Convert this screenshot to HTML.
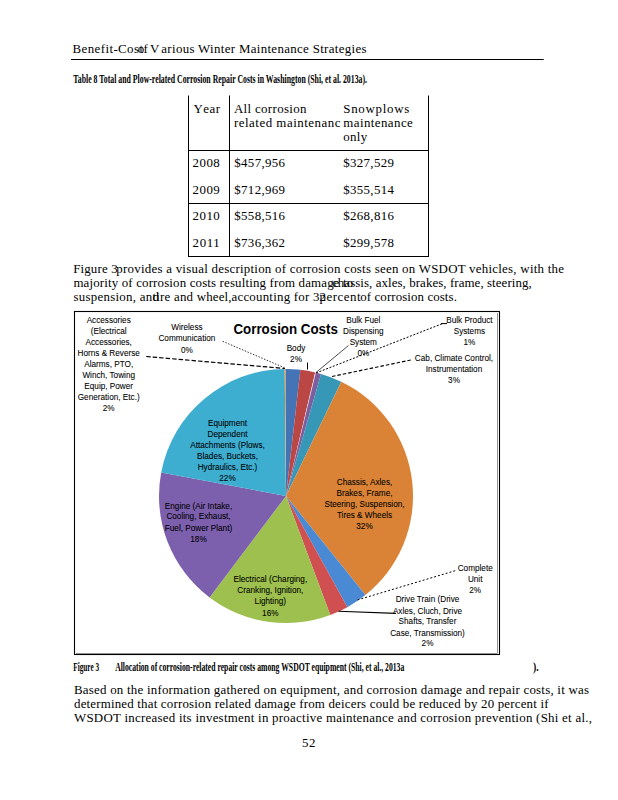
<!DOCTYPE html>
<html><head><meta charset="utf-8"><style>
html,body{margin:0;padding:0;background:#fff;width:618px;height:800px;overflow:hidden}
svg{display:block}
</style></head><body>
<svg width="618" height="800" viewBox="0 0 618 800">
<rect width="618" height="800" fill="#fff"/>
<text x="72.6" y="53" font-size="12.9" font-family='"Liberation Serif", serif' font-weight="normal" fill="#000" text-anchor="start" textLength="70.40" lengthAdjust="spacing">Benefit-Cost</text>
<text x="137.7" y="53" font-size="12.9" font-family='"Liberation Serif", serif' font-weight="normal" fill="#000" text-anchor="start" textLength="10.10" lengthAdjust="spacing">of</text>
<text x="150.1" y="53" font-size="12.9" font-family='"Liberation Serif", serif' font-weight="normal" fill="#000" text-anchor="start">V</text>
<text x="161.3" y="53" font-size="12.9" font-family='"Liberation Serif", serif' font-weight="normal" fill="#000" text-anchor="start" textLength="205.20" lengthAdjust="spacing">arious Winter Maintenance Strategies</text>
<line x1="71" y1="59.5" x2="543.7" y2="59.5" stroke="#000" stroke-width="1.1"/>
<text x="73.3" y="83" font-size="12" font-family='"Liberation Serif", serif' font-weight="bold" fill="#000" text-anchor="start" textLength="293.70" lengthAdjust="spacingAndGlyphs">Table 8 Total and Plow-related Corrosion Repair Costs in Washington (Shi, et al. 2013a).</text>
<line x1="188.5" y1="95.5" x2="188.5" y2="256.5" stroke="#000" stroke-width="1"/>
<line x1="229.5" y1="95.5" x2="229.5" y2="256.5" stroke="#000" stroke-width="1"/>
<line x1="428.5" y1="95.5" x2="428.5" y2="256.5" stroke="#000" stroke-width="1"/>
<line x1="188.0" y1="150.5" x2="429.0" y2="150.5" stroke="#000" stroke-width="1"/>
<line x1="188.0" y1="203.5" x2="429.0" y2="203.5" stroke="#000" stroke-width="1"/>
<line x1="188.0" y1="256.5" x2="429.0" y2="256.5" stroke="#000" stroke-width="1"/>
<text x="193.6" y="113" font-size="12.9" font-family='"Liberation Serif", serif' font-weight="normal" fill="#000" text-anchor="start">Y</text>
<text x="203.3" y="113" font-size="12.9" font-family='"Liberation Serif", serif' font-weight="normal" fill="#000" text-anchor="start" textLength="16.70" lengthAdjust="spacing">ear</text>
<text x="233.9" y="113" font-size="12.9" font-family='"Liberation Serif", serif' font-weight="normal" fill="#000" text-anchor="start" textLength="72.60" lengthAdjust="spacing">All corrosion</text>
<text x="233.9" y="127" font-size="12.9" font-family='"Liberation Serif", serif' font-weight="normal" fill="#000" text-anchor="start" textLength="106.60" lengthAdjust="spacing">related maintenanc</text>
<text x="343.3" y="113" font-size="12.9" font-family='"Liberation Serif", serif' font-weight="normal" fill="#000" text-anchor="start" textLength="66.00" lengthAdjust="spacing">Snowplows</text>
<text x="343.3" y="127" font-size="12.9" font-family='"Liberation Serif", serif' font-weight="normal" fill="#000" text-anchor="start" textLength="69.50" lengthAdjust="spacing">maintenance</text>
<text x="343.3" y="141" font-size="12.9" font-family='"Liberation Serif", serif' font-weight="normal" fill="#000" text-anchor="start" letter-spacing="0.3">only</text>
<text x="192.6" y="167" font-size="12.9" font-family='"Liberation Serif", serif' font-weight="normal" fill="#000" text-anchor="start" textLength="27.20" lengthAdjust="spacing">2008</text>
<text x="234.3" y="167" font-size="12.9" font-family='"Liberation Serif", serif' font-weight="normal" fill="#000" text-anchor="start" textLength="50.70" lengthAdjust="spacing">$457,956</text>
<text x="343.3" y="167" font-size="12.9" font-family='"Liberation Serif", serif' font-weight="normal" fill="#000" text-anchor="start" textLength="50.60" lengthAdjust="spacing">$327,529</text>
<text x="192.6" y="194" font-size="12.9" font-family='"Liberation Serif", serif' font-weight="normal" fill="#000" text-anchor="start" textLength="27.20" lengthAdjust="spacing">2009</text>
<text x="234.3" y="194" font-size="12.9" font-family='"Liberation Serif", serif' font-weight="normal" fill="#000" text-anchor="start" textLength="50.70" lengthAdjust="spacing">$712,969</text>
<text x="343.3" y="194" font-size="12.9" font-family='"Liberation Serif", serif' font-weight="normal" fill="#000" text-anchor="start" textLength="50.60" lengthAdjust="spacing">$355,514</text>
<text x="192.6" y="220" font-size="12.9" font-family='"Liberation Serif", serif' font-weight="normal" fill="#000" text-anchor="start" textLength="27.20" lengthAdjust="spacing">2010</text>
<text x="234.3" y="220" font-size="12.9" font-family='"Liberation Serif", serif' font-weight="normal" fill="#000" text-anchor="start" textLength="50.70" lengthAdjust="spacing">$558,516</text>
<text x="343.3" y="220" font-size="12.9" font-family='"Liberation Serif", serif' font-weight="normal" fill="#000" text-anchor="start" textLength="50.60" lengthAdjust="spacing">$268,816</text>
<text x="192.6" y="247" font-size="12.9" font-family='"Liberation Serif", serif' font-weight="normal" fill="#000" text-anchor="start" textLength="27.20" lengthAdjust="spacing">2011</text>
<text x="234.3" y="247" font-size="12.9" font-family='"Liberation Serif", serif' font-weight="normal" fill="#000" text-anchor="start" textLength="50.70" lengthAdjust="spacing">$736,362</text>
<text x="343.3" y="247" font-size="12.9" font-family='"Liberation Serif", serif' font-weight="normal" fill="#000" text-anchor="start" textLength="50.60" lengthAdjust="spacing">$299,578</text>
<text x="73.2" y="273" font-size="12.9" font-family='"Liberation Serif", serif' font-weight="normal" fill="#000" text-anchor="start" textLength="44.40" lengthAdjust="spacing">Figure 3</text>
<text x="116.3" y="273" font-size="12.9" font-family='"Liberation Serif", serif' font-weight="normal" fill="#000" text-anchor="start" textLength="447.70" lengthAdjust="spacing">provides a visual description of corrosion costs seen on WSDOT vehicles, with the</text>
<text x="73.4" y="287" font-size="12.9" font-family='"Liberation Serif", serif' font-weight="normal" fill="#000" text-anchor="start" textLength="260.20" lengthAdjust="spacing">majority of corrosion costs resulting from damag</text>
<text x="333.4" y="287" font-size="12.9" font-family='"Liberation Serif", serif' font-weight="normal" fill="#000" text-anchor="start" letter-spacing="0.3">e to</text>
<text x="332" y="287" font-size="12.9" font-family='"Liberation Serif", serif' font-weight="normal" fill="#000" text-anchor="start" textLength="199.70" lengthAdjust="spacing">chassis, axles, brakes, frame, steering,</text>
<text x="73.4" y="301" font-size="12.9" font-family='"Liberation Serif", serif' font-weight="normal" fill="#000" text-anchor="start" textLength="85.60" lengthAdjust="spacing">suspension, and</text>
<text x="152.5" y="301" font-size="12.9" font-family='"Liberation Serif", serif' font-weight="normal" fill="#000" text-anchor="start" textLength="72.00" lengthAdjust="spacing">tire and whee</text>
<text x="224.6" y="301" font-size="12.9" font-family='"Liberation Serif", serif' font-weight="normal" fill="#000" text-anchor="start">l,</text>
<text x="231.5" y="301" font-size="12.9" font-family='"Liberation Serif", serif' font-weight="normal" fill="#000" text-anchor="start" textLength="94.50" lengthAdjust="spacing">accounting for 32</text>
<text x="319.6" y="301" font-size="12.9" font-family='"Liberation Serif", serif' font-weight="normal" fill="#000" text-anchor="start" textLength="40.90" lengthAdjust="spacing">percent</text>
<text x="360.3" y="301" font-size="12.9" font-family='"Liberation Serif", serif' font-weight="normal" fill="#000" text-anchor="start" textLength="96.60" lengthAdjust="spacing">of corrosion costs.</text>
<rect x="74.5" y="311.5" width="425" height="343" fill="#fff" stroke="#000" stroke-width="1.1"/>
<line x1="497.5" y1="313" x2="497.5" y2="653" stroke="#888" stroke-width="0.9"/>
<line x1="76" y1="653.5" x2="497.5" y2="653.5" stroke="#888" stroke-width="0.9"/>
<path d="M286,496 L286.00,369.00 A127,127 0 0 1 300.38,369.82 Z" fill="#4474b6"/>
<path d="M286,496 L300.38,369.82 A127,127 0 0 1 315.22,372.41 Z" fill="#bb4744"/>
<path d="M286,496 L315.22,372.41 A127,127 0 0 1 315.86,372.56 Z" fill="#f0f0f0"/>
<path d="M286,496 L315.86,372.56 A127,127 0 0 1 321.01,373.92 Z" fill="#7d5fa0"/>
<path d="M286,496 L321.01,373.92 A127,127 0 0 1 341.27,381.66 Z" fill="#3797b6"/>
<path d="M286,496 L341.27,381.66 A127,127 0 0 1 365.41,595.11 Z" fill="#da8336"/>
<path d="M286,496 L365.41,595.11 A127,127 0 0 1 347.38,607.18 Z" fill="#4a8ad4"/>
<path d="M286,496 L347.38,607.18 A127,127 0 0 1 330.27,615.03 Z" fill="#d04f50"/>
<path d="M286,496 L330.27,615.03 A127,127 0 0 1 209.57,597.43 Z" fill="#9dc04e"/>
<path d="M286,496 L209.57,597.43 A127,127 0 0 1 161.21,472.42 Z" fill="#7c5fad"/>
<path d="M286,496 L161.21,472.42 A127,127 0 0 1 284.67,369.01 Z" fill="#3dadd0"/>
<path d="M286,496 L284.67,369.01 A127,127 0 0 1 286.00,369.00 Z" fill="#e0a060"/>
<text x="233.5" y="333.5" font-size="14" font-family='"Liberation Sans", sans-serif' font-weight="bold" fill="#000" text-anchor="start" textLength="104.30" lengthAdjust="spacingAndGlyphs">Corrosion Costs</text>
<text x="108.7" y="322.7" font-size="8.2" font-family='"Liberation Sans", sans-serif' font-weight="normal" fill="#000" text-anchor="middle" stroke="#000" stroke-width="0.07">Accessories</text>
<text x="108.7" y="333.8" font-size="8.2" font-family='"Liberation Sans", sans-serif' font-weight="normal" fill="#000" text-anchor="middle" stroke="#000" stroke-width="0.07">(Electrical</text>
<text x="108.7" y="344.7" font-size="8.2" font-family='"Liberation Sans", sans-serif' font-weight="normal" fill="#000" text-anchor="middle" stroke="#000" stroke-width="0.07">Accessories,</text>
<text x="108.7" y="355.8" font-size="8.2" font-family='"Liberation Sans", sans-serif' font-weight="normal" fill="#000" text-anchor="middle" stroke="#000" stroke-width="0.07">Horns &amp; Reverse</text>
<text x="108.7" y="366.7" font-size="8.2" font-family='"Liberation Sans", sans-serif' font-weight="normal" fill="#000" text-anchor="middle" stroke="#000" stroke-width="0.07">Alarms, PTO,</text>
<text x="108.7" y="378.1" font-size="8.2" font-family='"Liberation Sans", sans-serif' font-weight="normal" fill="#000" text-anchor="middle" stroke="#000" stroke-width="0.07">Winch, Towing</text>
<text x="108.7" y="388.9" font-size="8.2" font-family='"Liberation Sans", sans-serif' font-weight="normal" fill="#000" text-anchor="middle" stroke="#000" stroke-width="0.07">Equip, Power</text>
<text x="108.7" y="399.8" font-size="8.2" font-family='"Liberation Sans", sans-serif' font-weight="normal" fill="#000" text-anchor="middle" stroke="#000" stroke-width="0.07">Generation, Etc.)</text>
<text x="108.7" y="411.4" font-size="8.2" font-family='"Liberation Sans", sans-serif' font-weight="normal" fill="#000" text-anchor="middle" stroke="#000" stroke-width="0.07">2%</text>
<text x="186.9" y="329.9" font-size="8.2" font-family='"Liberation Sans", sans-serif' font-weight="normal" fill="#000" text-anchor="middle" stroke="#000" stroke-width="0.07">Wireless</text>
<text x="186.9" y="340.8" font-size="8.2" font-family='"Liberation Sans", sans-serif' font-weight="normal" fill="#000" text-anchor="middle" stroke="#000" stroke-width="0.07">Communication</text>
<text x="186.9" y="352.7" font-size="8.2" font-family='"Liberation Sans", sans-serif' font-weight="normal" fill="#000" text-anchor="middle" stroke="#000" stroke-width="0.07">0%</text>
<text x="296" y="351.0" font-size="8.2" font-family='"Liberation Sans", sans-serif' font-weight="normal" fill="#000" text-anchor="middle" stroke="#000" stroke-width="0.07">Body</text>
<text x="296" y="362.2" font-size="8.2" font-family='"Liberation Sans", sans-serif' font-weight="normal" fill="#000" text-anchor="middle" stroke="#000" stroke-width="0.07">2%</text>
<text x="363.3" y="323.1" font-size="8.2" font-family='"Liberation Sans", sans-serif' font-weight="normal" fill="#000" text-anchor="middle" stroke="#000" stroke-width="0.07">Bulk Fuel</text>
<text x="363.3" y="334.2" font-size="8.2" font-family='"Liberation Sans", sans-serif' font-weight="normal" fill="#000" text-anchor="middle" stroke="#000" stroke-width="0.07">Dispensing</text>
<text x="363.3" y="345.3" font-size="8.2" font-family='"Liberation Sans", sans-serif' font-weight="normal" fill="#000" text-anchor="middle" stroke="#000" stroke-width="0.07">System</text>
<text x="363.3" y="355.7" font-size="8.2" font-family='"Liberation Sans", sans-serif' font-weight="normal" fill="#000" text-anchor="middle" stroke="#000" stroke-width="0.07">0%</text>
<text x="469.4" y="323.1" font-size="8.2" font-family='"Liberation Sans", sans-serif' font-weight="normal" fill="#000" text-anchor="middle" stroke="#000" stroke-width="0.07">Bulk Product</text>
<text x="469.4" y="334.2" font-size="8.2" font-family='"Liberation Sans", sans-serif' font-weight="normal" fill="#000" text-anchor="middle" stroke="#000" stroke-width="0.07">Systems</text>
<text x="469.4" y="345.3" font-size="8.2" font-family='"Liberation Sans", sans-serif' font-weight="normal" fill="#000" text-anchor="middle" stroke="#000" stroke-width="0.07">1%</text>
<text x="454" y="360.9" font-size="8.2" font-family='"Liberation Sans", sans-serif' font-weight="normal" fill="#000" text-anchor="middle" stroke="#000" stroke-width="0.07">Cab, Climate Control,</text>
<text x="454" y="371.8" font-size="8.2" font-family='"Liberation Sans", sans-serif' font-weight="normal" fill="#000" text-anchor="middle" stroke="#000" stroke-width="0.07">Instrumentation</text>
<text x="454" y="382.6" font-size="8.2" font-family='"Liberation Sans", sans-serif' font-weight="normal" fill="#000" text-anchor="middle" stroke="#000" stroke-width="0.07">3%</text>
<text x="475.2" y="570.9" font-size="8.2" font-family='"Liberation Sans", sans-serif' font-weight="normal" fill="#000" text-anchor="middle" stroke="#000" stroke-width="0.07">Complete</text>
<text x="475.2" y="581.8" font-size="8.2" font-family='"Liberation Sans", sans-serif' font-weight="normal" fill="#000" text-anchor="middle" stroke="#000" stroke-width="0.07">Unit</text>
<text x="475.2" y="592.9" font-size="8.2" font-family='"Liberation Sans", sans-serif' font-weight="normal" fill="#000" text-anchor="middle" stroke="#000" stroke-width="0.07">2%</text>
<text x="427.5" y="602.0" font-size="8.2" font-family='"Liberation Sans", sans-serif' font-weight="normal" fill="#000" text-anchor="middle" stroke="#000" stroke-width="0.07">Drive Train (Drive</text>
<text x="427.5" y="613.6" font-size="8.2" font-family='"Liberation Sans", sans-serif' font-weight="normal" fill="#000" text-anchor="middle" stroke="#000" stroke-width="0.07">Axles, Cluch, Drive</text>
<text x="427.5" y="624.0" font-size="8.2" font-family='"Liberation Sans", sans-serif' font-weight="normal" fill="#000" text-anchor="middle" stroke="#000" stroke-width="0.07">Shafts, Transfer</text>
<text x="427.5" y="635.6" font-size="8.2" font-family='"Liberation Sans", sans-serif' font-weight="normal" fill="#000" text-anchor="middle" stroke="#000" stroke-width="0.07">Case, Transmission)</text>
<text x="427.5" y="646.0" font-size="8.2" font-family='"Liberation Sans", sans-serif' font-weight="normal" fill="#000" text-anchor="middle" stroke="#000" stroke-width="0.07">2%</text>
<text x="227.5" y="426.1" font-size="8.2" font-family='"Liberation Sans", sans-serif' font-weight="normal" fill="#000" text-anchor="middle" stroke="#000" stroke-width="0.07">Equipment</text>
<text x="227.5" y="437.1" font-size="8.2" font-family='"Liberation Sans", sans-serif' font-weight="normal" fill="#000" text-anchor="middle" stroke="#000" stroke-width="0.07">Dependent</text>
<text x="227.5" y="448.0" font-size="8.2" font-family='"Liberation Sans", sans-serif' font-weight="normal" fill="#000" text-anchor="middle" stroke="#000" stroke-width="0.07">Attachments (Plows,</text>
<text x="227.5" y="458.8" font-size="8.2" font-family='"Liberation Sans", sans-serif' font-weight="normal" fill="#000" text-anchor="middle" stroke="#000" stroke-width="0.07">Blades, Buckets,</text>
<text x="227.5" y="469.8" font-size="8.2" font-family='"Liberation Sans", sans-serif' font-weight="normal" fill="#000" text-anchor="middle" stroke="#000" stroke-width="0.07">Hydraulics, Etc.)</text>
<text x="227.5" y="480.8" font-size="8.2" font-family='"Liberation Sans", sans-serif' font-weight="normal" fill="#000" text-anchor="middle" stroke="#000" stroke-width="0.07">22%</text>
<text x="364.5" y="484.6" font-size="8.2" font-family='"Liberation Sans", sans-serif' font-weight="normal" fill="#000" text-anchor="middle" stroke="#000" stroke-width="0.07">Chassis, Axles,</text>
<text x="364.5" y="495.5" font-size="8.2" font-family='"Liberation Sans", sans-serif' font-weight="normal" fill="#000" text-anchor="middle" stroke="#000" stroke-width="0.07">Brakes, Frame,</text>
<text x="364.5" y="506.6" font-size="8.2" font-family='"Liberation Sans", sans-serif' font-weight="normal" fill="#000" text-anchor="middle" stroke="#000" stroke-width="0.07">Steering, Suspension,</text>
<text x="364.5" y="517.6" font-size="8.2" font-family='"Liberation Sans", sans-serif' font-weight="normal" fill="#000" text-anchor="middle" stroke="#000" stroke-width="0.07">Tires &amp; Wheels</text>
<text x="364.5" y="528.5" font-size="8.2" font-family='"Liberation Sans", sans-serif' font-weight="normal" fill="#000" text-anchor="middle" stroke="#000" stroke-width="0.07">32%</text>
<text x="198.5" y="508.5" font-size="8.2" font-family='"Liberation Sans", sans-serif' font-weight="normal" fill="#000" text-anchor="middle" stroke="#000" stroke-width="0.07">Engine (Air Intake,</text>
<text x="198.5" y="519.4" font-size="8.2" font-family='"Liberation Sans", sans-serif' font-weight="normal" fill="#000" text-anchor="middle" stroke="#000" stroke-width="0.07">Cooling, Exhaust,</text>
<text x="198.5" y="530.9" font-size="8.2" font-family='"Liberation Sans", sans-serif' font-weight="normal" fill="#000" text-anchor="middle" stroke="#000" stroke-width="0.07">Fuel, Power Plant)</text>
<text x="198.5" y="542.2" font-size="8.2" font-family='"Liberation Sans", sans-serif' font-weight="normal" fill="#000" text-anchor="middle" stroke="#000" stroke-width="0.07">18%</text>
<text x="270.3" y="582.4" font-size="8.2" font-family='"Liberation Sans", sans-serif' font-weight="normal" fill="#000" text-anchor="middle" stroke="#000" stroke-width="0.07">Electrical (Charging,</text>
<text x="270.3" y="593.4" font-size="8.2" font-family='"Liberation Sans", sans-serif' font-weight="normal" fill="#000" text-anchor="middle" stroke="#000" stroke-width="0.07">Cranking, Ignition,</text>
<text x="270.3" y="604.3" font-size="8.2" font-family='"Liberation Sans", sans-serif' font-weight="normal" fill="#000" text-anchor="middle" stroke="#000" stroke-width="0.07">Lighting)</text>
<text x="270.3" y="616.0" font-size="8.2" font-family='"Liberation Sans", sans-serif' font-weight="normal" fill="#000" text-anchor="middle" stroke="#000" stroke-width="0.07">16%</text>
<line x1="146.2" y1="356.5" x2="285" y2="368.5" stroke="#000" stroke-width="1.2" stroke-dasharray="4.5,2"/>
<line x1="222.6" y1="341.3" x2="285" y2="368" stroke="#000" stroke-width="0.8" stroke-dasharray="1.5,1.5"/>
<line x1="307.5" y1="362.5" x2="307.5" y2="369.5" stroke="#000" stroke-width="1"/>
<line x1="348.5" y1="345.5" x2="316" y2="372.5" stroke="#000" stroke-width="0.7"/>
<line x1="442" y1="323.8" x2="316" y2="373" stroke="#000" stroke-width="1" stroke-dasharray="2,1.6"/>
<line x1="441" y1="323.6" x2="447" y2="323.6" stroke="#000" stroke-width="1"/>
<line x1="410.8" y1="360" x2="332" y2="376.5" stroke="#000" stroke-width="1.1" stroke-dasharray="3.5,2"/>
<line x1="455.2" y1="570.7" x2="355.5" y2="600.5" stroke="#000" stroke-width="1" stroke-dasharray="2,2"/>
<line x1="338.5" y1="611.2" x2="396" y2="613.4" stroke="#000" stroke-width="1.1"/>
<text x="73.3" y="671" font-size="12" font-family='"Liberation Serif", serif' font-weight="bold" fill="#000" text-anchor="start" textLength="25.70" lengthAdjust="spacingAndGlyphs">Figure 3</text>
<text x="115.2" y="671" font-size="12" font-family='"Liberation Serif", serif' font-weight="bold" fill="#000" text-anchor="start" textLength="289.10" lengthAdjust="spacingAndGlyphs">Allocation of corrosion-related repair costs among WSDOT equipment (Shi, et al., 2013a</text>
<text x="533.1" y="671" font-size="12" font-family='"Liberation Serif", serif' font-weight="bold" fill="#000" text-anchor="start" textLength="5.70" lengthAdjust="spacingAndGlyphs">).</text>
<text x="74" y="694" font-size="12.9" font-family='"Liberation Serif", serif' font-weight="normal" fill="#000" text-anchor="start" textLength="515.00" lengthAdjust="spacing">Based on the information gathered on equipment, and corrosion damage and repair costs, it was</text>
<text x="74" y="708" font-size="12.9" font-family='"Liberation Serif", serif' font-weight="normal" fill="#000" text-anchor="start" textLength="474.50" lengthAdjust="spacing">determined that corrosion related damage from deicers could be reduced by 20 percent if</text>
<text x="74" y="722" font-size="12.9" font-family='"Liberation Serif", serif' font-weight="normal" fill="#000" text-anchor="start" textLength="518.00" lengthAdjust="spacing">WSDOT increased its investment in proactive maintenance and corrosion prevention (Shi et al.,</text>
<text x="302.1" y="747" font-size="12.9" font-family='"Liberation Serif", serif' font-weight="normal" fill="#000" text-anchor="start" textLength="13.40" lengthAdjust="spacing">52</text>
</svg>
</body></html>
